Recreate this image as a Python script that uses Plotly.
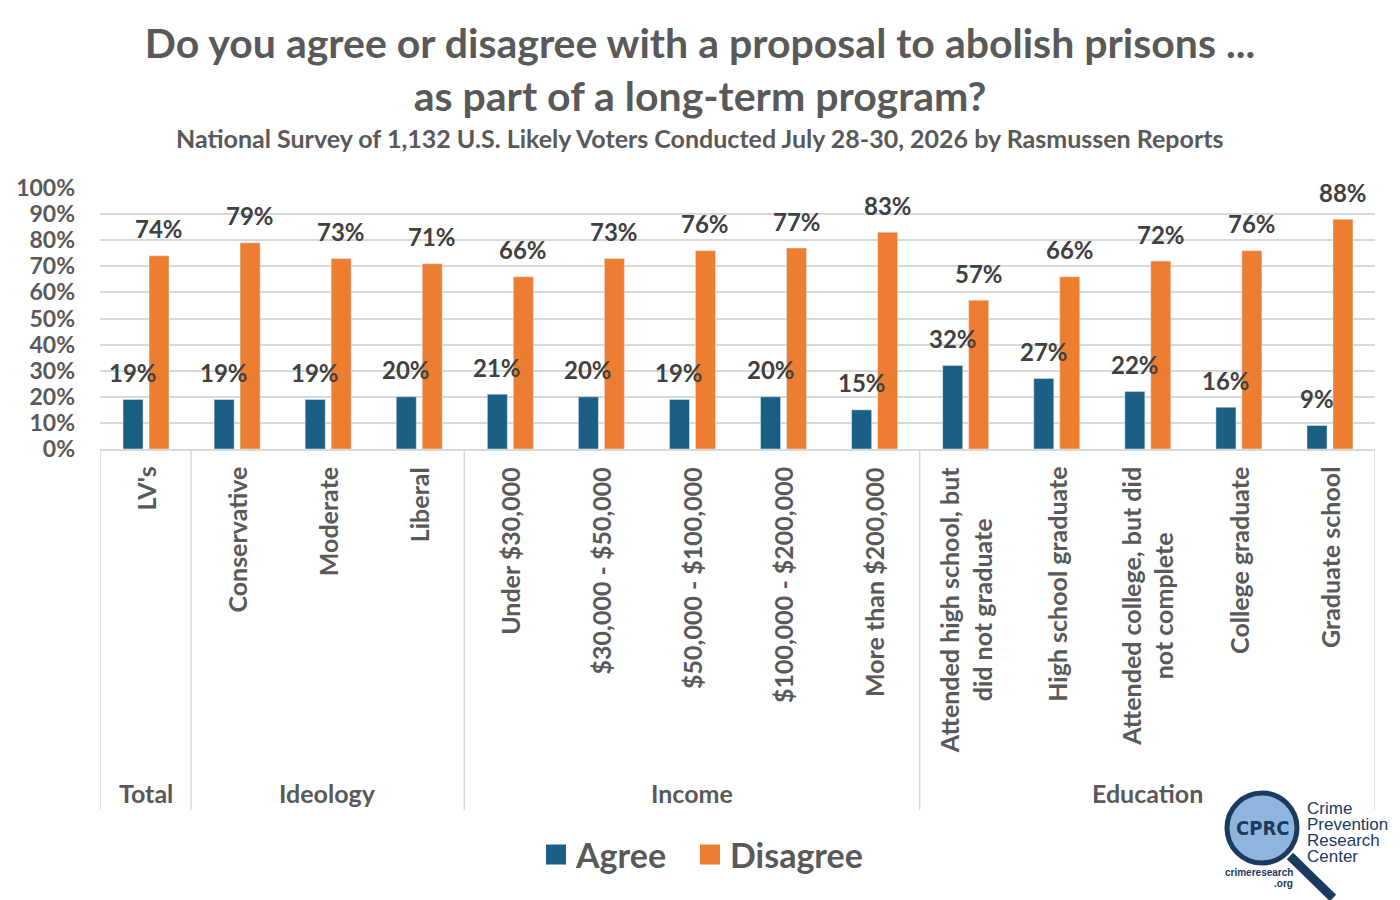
import plotly.graph_objects as go

# Data
categories = [
    "LV's", "Conservative", "Moderate", "Liberal",
    "Under $30,000", "$30,000 - $50,000", "$50,000 - $100,000",
    "$100,000 - $200,000", "More than $200,000",
    "Attended high school, but<br>did not graduate", "High school graduate",
    "Attended college, but did<br>not complete", "College graduate", "Graduate school",
]
agree = [19, 19, 19, 20, 21, 20, 19, 20, 15, 32, 27, 22, 16, 9]
disagree = [74, 79, 73, 71, 66, 73, 76, 77, 83, 57, 66, 72, 76, 88]

groups = ["Total", "Ideology", "Income", "Education"]
group_sizes = [1, 3, 5, 5]

BLUE = "#1b5f84"
ORANGE = "#ed7d31"
FONT = "Lato"
GRID = "#d9d9d9"
LABEL_GRAY = "#595959"

# plot area in pixels: x 100..1375, y 188 (100%) .. 449 (0%)
PLOT_TOP, PLOT_BOTTOM = 188, 449
PLOT_H = PLOT_BOTTOM - PLOT_TOP
PLOT_L, PLOT_R = 100, 1375
PLOT_W = PLOT_R - PLOT_L
CAT_W = PLOT_W / len(categories)

BAR_W = 0.22
AGREE_OFFSET = -0.247
DISAGREE_OFFSET = 0.038


def py(pixel_y):
    return (PLOT_BOTTOM - pixel_y) / PLOT_H


def px(pixel_x):
    return (pixel_x - PLOT_L) / PLOT_W


fig = go.Figure()

fig.add_trace(
    go.Bar(
        x=categories, y=disagree, name="Disagree",
        marker=dict(color=ORANGE), width=BAR_W, offset=DISAGREE_OFFSET,
        showlegend=False,
    )
)
fig.add_trace(
    go.Bar(
        x=categories, y=agree, name="Agree",
        marker=dict(color=BLUE), width=BAR_W, offset=AGREE_OFFSET,
        showlegend=False,
    )
)

# legend entries with bigger squares, one legend each so spacing can be set
for name, color, lg in [("Agree", BLUE, "legend"), ("Disagree", ORANGE, "legend2")]:
    fig.add_trace(
        go.Scatter(
            x=[None], y=[None], mode="markers", name=name, legend=lg,
            marker=dict(symbol="square", size=16, color=color,
                        line=dict(color=color, width=4)),
        )
    )

# data labels above each bar
for values, offset in [(agree, AGREE_OFFSET), (disagree, DISAGREE_OFFSET)]:
    shift = (offset + BAR_W / 2) * CAT_W
    for cat, v in zip(categories, values):
        fig.add_annotation(
            x=cat, y=v, xref="x", yref="y", text=f"{v}%",
            showarrow=False, xanchor="center", yanchor="middle",
            xshift=shift, yshift=27,
            font=dict(family=FONT, size=24, color="#404040", weight="bold"),
        )

# rotated category labels
for cat in categories:
    fig.add_annotation(
        x=cat, y=py(465), xref="x", yref="paper",
        text=cat, textangle=-90, showarrow=False,
        xanchor="center", yanchor="top", align="center",
        font=dict(family=FONT, size=25, color=LABEL_GRAY, weight="bold"),
    )

# group labels and separators
shapes = []
start = 0
for name, size in zip(groups, group_sizes):
    center = start + (size - 1) / 2
    fig.add_annotation(
        x=center, y=py(793), xref="x", yref="paper",
        text=name, showarrow=False, xanchor="center", yanchor="middle",
        font=dict(family=FONT, size=25, color=LABEL_GRAY, weight="bold"),
    )
    shapes.append(dict(
        type="line", xref="x", yref="paper",
        x0=start - 0.5, x1=start - 0.5, y0=0, y1=py(810),
        line=dict(color=GRID, width=1.5),
    ))
    start += size
shapes.append(dict(
    type="line", xref="x", yref="paper",
    x0=start - 0.5, x1=start - 0.5, y0=0, y1=py(810),
    line=dict(color=GRID, width=1.5),
))

# CPRC logo
NAVY = "#1b3a5e"
shapes.append(dict(
    type="line", xref="paper", yref="paper",
    x0=px(1290), y0=py(856), x1=px(1333), y1=py(898),
    line=dict(color=NAVY, width=9),
))
shapes.append(dict(
    type="circle", xref="paper", yref="paper",
    x0=px(1227), x1=px(1297), y0=py(793), y1=py(863),
    fillcolor="#8fb5de", line=dict(color=NAVY, width=5),
))
fig.add_annotation(
    x=px(1262), y=py(828), xref="paper", yref="paper", text="CPRC",
    showarrow=False, xanchor="center", yanchor="middle",
    font=dict(family="DejaVu Sans Condensed", size=20, color=NAVY, weight="bold"),
)
for i, line in enumerate(["Crime", "Prevention", "Research", "Center"]):
    fig.add_annotation(
        x=px(1306), y=py(808 + 16.3 * i), xref="paper", yref="paper", text=line,
        showarrow=False, xanchor="left", yanchor="middle", borderpad=0,
        font=dict(family="Liberation Sans", size=17, color=NAVY),
    )
fig.add_annotation(
    x=px(1294), y=py(872), xref="paper", yref="paper", text="crimeresearch",
    showarrow=False, xanchor="right", yanchor="middle", borderpad=0,
    font=dict(family="Liberation Sans", size=10, color=NAVY, weight="bold"),
)
fig.add_annotation(
    x=px(1294), y=py(883), xref="paper", yref="paper", text=".org",
    showarrow=False, xanchor="right", yanchor="middle", borderpad=0,
    font=dict(family="Liberation Sans", size=10, color=NAVY, weight="bold"),
)

# subtitle
fig.add_annotation(
    x=px(700), y=py(138), xref="paper", yref="paper",
    text="National Survey of 1,132 U.S. Likely Voters Conducted July 28-30, 2026 by Rasmussen Reports",
    showarrow=False, xanchor="center", yanchor="middle",
    font=dict(family=FONT, size=25, color=LABEL_GRAY, weight="bold"),
)

legend_style = dict(
    orientation="h",
    xanchor="left",
    y=py(855), yanchor="middle",
    font=dict(family=FONT, size=34, color=LABEL_GRAY, weight="bold"),
    itemclick=False,
    bgcolor="rgba(0,0,0,0)",
)

fig.update_layout(
    width=1400,
    height=900,
    paper_bgcolor="white",
    plot_bgcolor="white",
    margin=dict(l=PLOT_L, r=1400 - PLOT_R, t=PLOT_TOP, b=900 - PLOT_BOTTOM),
    title=dict(
        text="Do you agree or disagree with a proposal to abolish prisons ...<br>as part of a long-term program?",
        x=0.5, xanchor="center", xref="container",
        y=1 - 58 / 900, yanchor="middle", yref="container",
        font=dict(family=FONT, size=41, color=LABEL_GRAY, weight="bold"),
    ),
    barmode="overlay",
    shapes=shapes,
    legend=dict(x=px(536), **legend_style),
    legend2=dict(x=px(690), **legend_style),
    xaxis=dict(
        type="category",
        range=[-0.5, len(categories) - 0.5],
        showticklabels=False,
        showline=True,
        linecolor=GRID,
        linewidth=1.5,
        showgrid=False,
    ),
    yaxis=dict(
        range=[0, 100],
        dtick=10,
        ticksuffix="%",
        showgrid=True,
        gridcolor=GRID,
        gridwidth=1.5,
        zeroline=False,
        ticklabelstandoff=24,
        tickfont=dict(family=FONT, size=23, color=LABEL_GRAY, weight="bold"),
    ),
)

fig.write_html(
    "out.html",
    config={"displayModeBar": False},
    post_script="document.body.style.margin = '0px';",
)
